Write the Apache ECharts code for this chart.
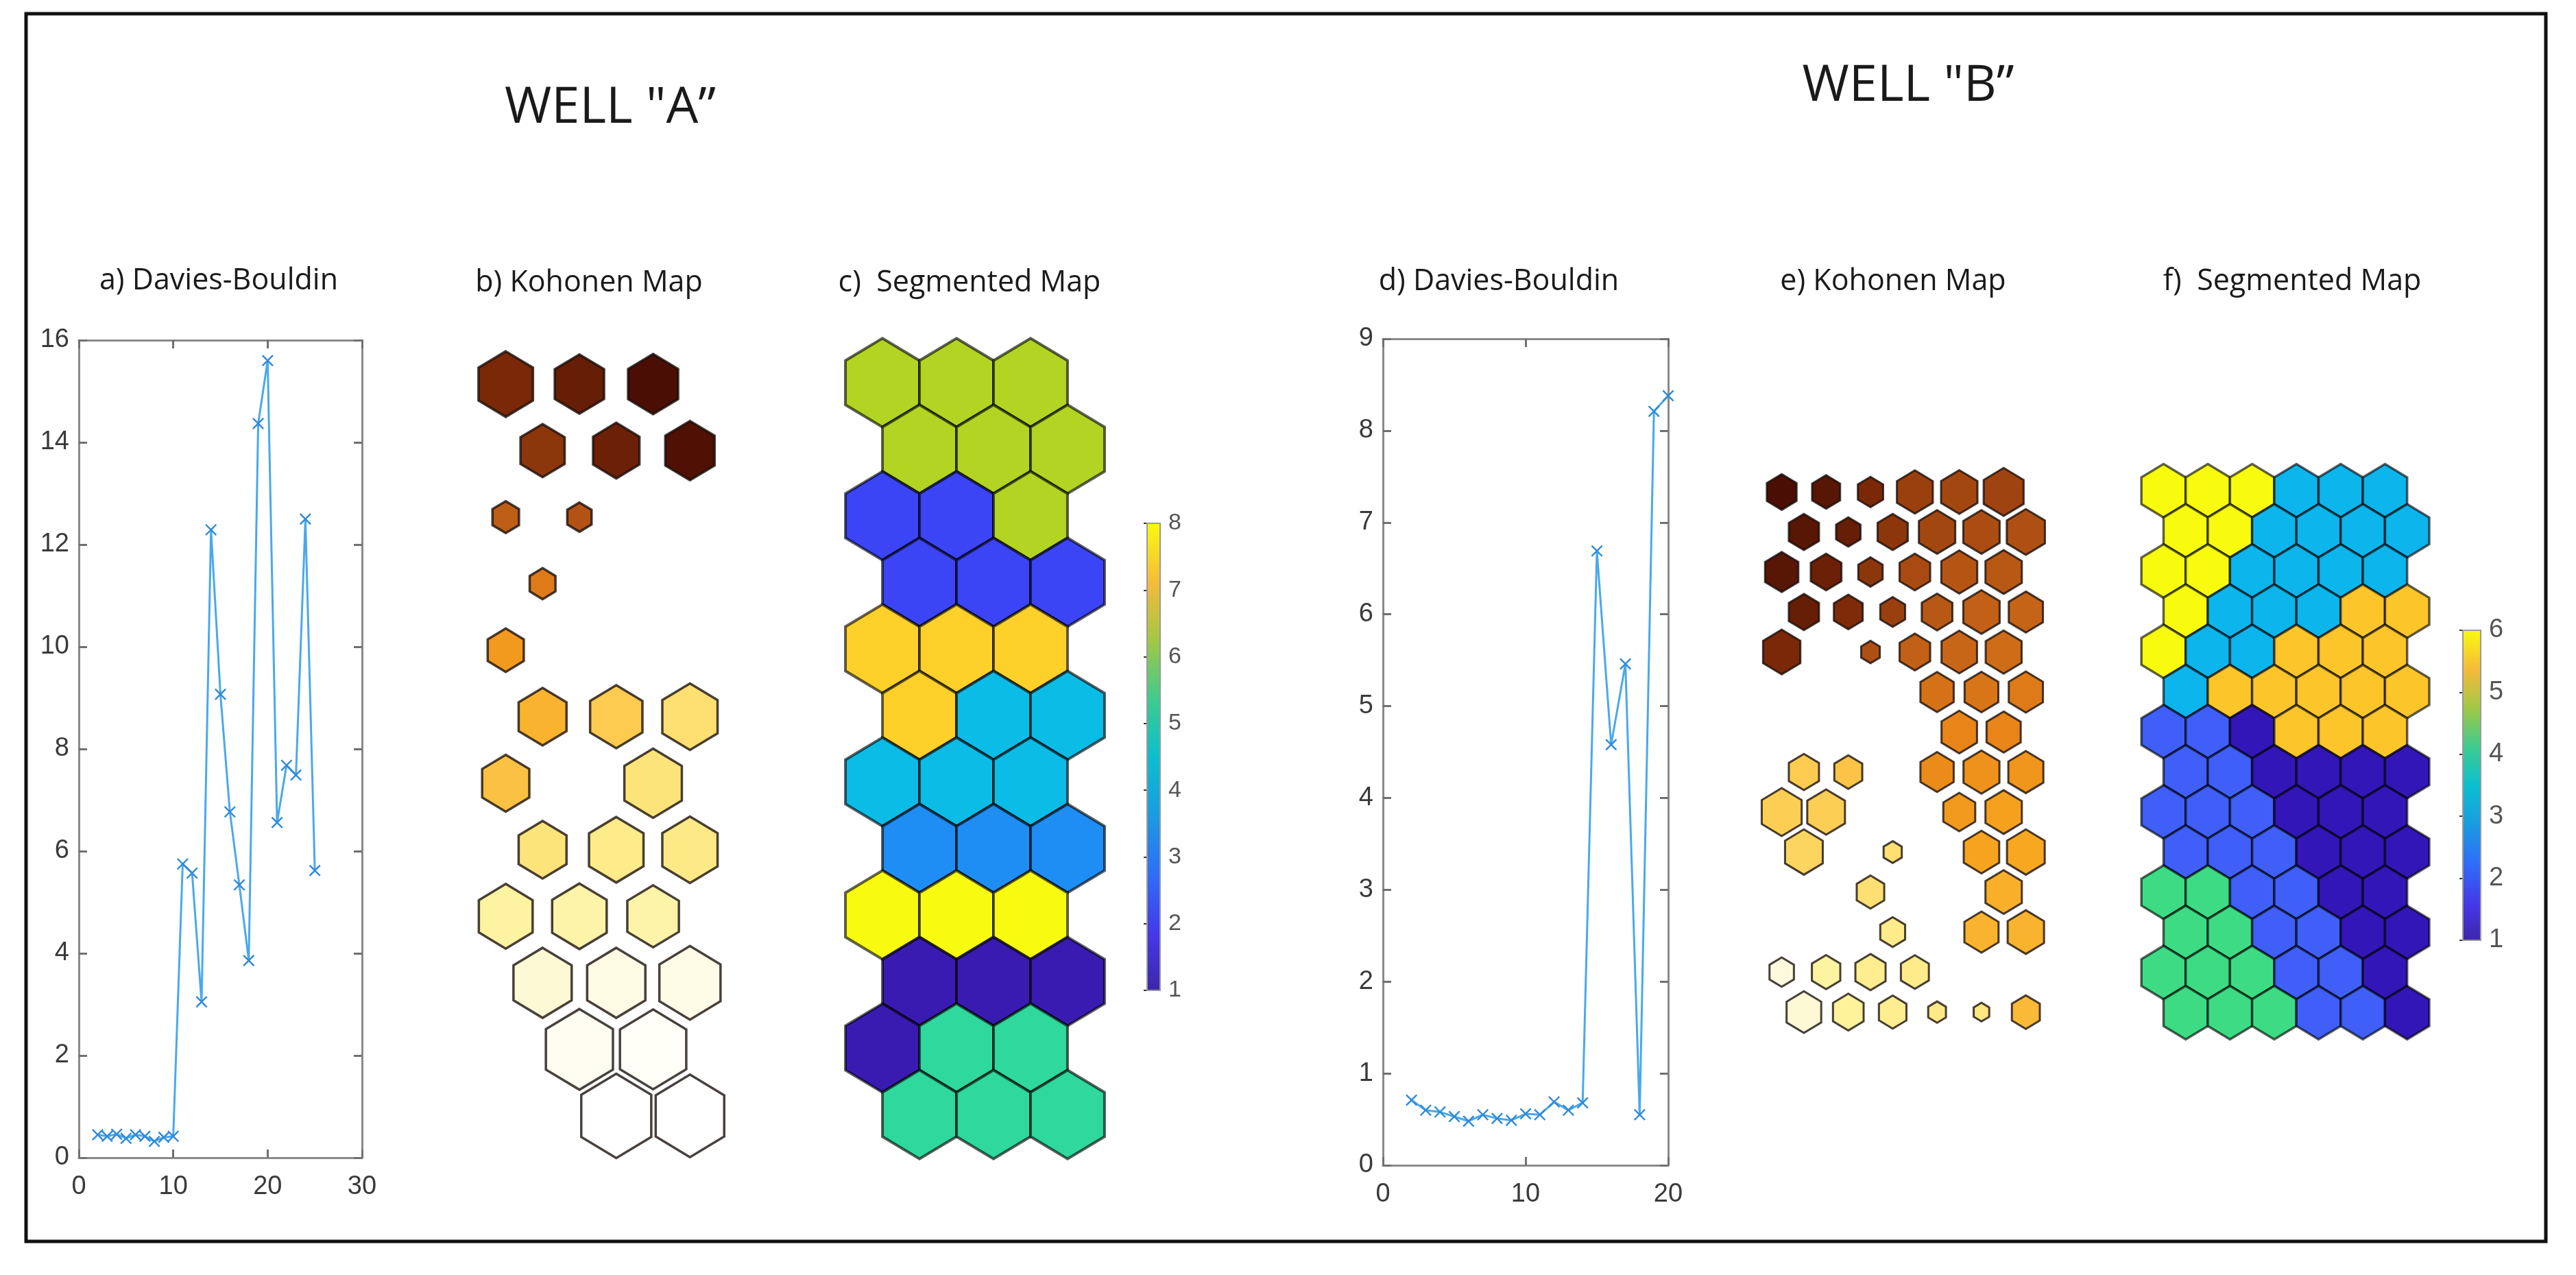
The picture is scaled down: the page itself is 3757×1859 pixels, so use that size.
<!DOCTYPE html>
<html>
<head>
<meta charset="utf-8">
<script src="https://cdn.jsdelivr.net/npm/echarts@6/dist/echarts.min.js"></script>
<style>
html,body{margin:0;padding:0;background:#fff;}
#main{width:3757px;height:1859px;}
</style>
</head>
<body>
<div id="main"></div>
<script>
// ---------- DATA ----------
// a) Davies-Bouldin, well A
const DB_A_X = [2,3,4,5,6,7,8,9,10,11,12,13,14,15,16,17,18,19,20,21,22,23,24,25];
const DB_A_Y = [0.45,0.42,0.46,0.38,0.45,0.42,0.32,0.40,0.42,5.75,5.57,3.05,12.29,9.07,6.77,5.34,3.86,14.37,15.6,6.56,7.68,7.49,12.5,5.62];
// d) Davies-Bouldin, well B
const DB_B_X = [2,3,4,5,6,7,8,9,10,11,12,13,14,15,16,17,18,19,20];
const DB_B_Y = [0.71,0.60,0.58,0.53,0.48,0.55,0.51,0.49,0.56,0.55,0.69,0.60,0.68,6.69,4.58,5.46,0.55,8.21,8.38];
const DB_A_XTICKS = [0,10,20,30], DB_A_YTICKS = [0,16,2];
const DB_B_XTICKS = [0,10,20],    DB_B_YTICKS = [0,9,1];

// b) Kohonen map, well A (12 rows x 3 cols): colour level (0 light .. 10 dark) and relative hexagon size
const KOH_A_LEVEL = [
 [9.0,9.4,10],[8.6,9.3,9.9],[7.3,7.7,null],[6.3,null,null],[5.4,null,null],[4.7,4.0,3.2],
 [4.3,null,3.0],[3.0,2.5,2.6],[1.9,1.8,1.8],[1.2,1.0,0.9],[null,0.5,0.3],[null,0,0]
];
const KOH_A_SIZE = [
 [0.74,0.67,0.68],[0.60,0.63,0.67],[0.36,0.33,0],[0.35,0,0],[0.49,0,0],[0.65,0.71,0.75],
 [0.64,0,0.78],[0.65,0.74,0.75],[0.73,0.74,0.70],[0.79,0.79,0.83],[0,0.91,0.90],[0,0.95,0.93]
];
// c) Segmented map, well A (cluster 1..8)
const SEG_A = [
 [6,6,6],[6,6,6],[2,2,6],[2,2,2],[7,7,7],[7,4,4],[4,4,4],[3,3,3],[8,8,8],[1,1,1],[1,5,5],[5,5,5]
];
const CBAR_A = [1,8];
// e) Kohonen map, well B (14 rows x 6 cols)
const KOH_B_LEVEL = [
 [10,9.7,9.0,8.3,8.1,8.2],
 [9.7,9.4,8.6,8.1,7.9,7.8],
 [9.7,9.3,8.6,8.0,7.6,7.5],
 [9.4,8.9,8.3,7.5,7.2,7.1],
 [9.0,null,7.8,7.2,7.0,6.8],
 [null,null,null,6.6,6.5,6.3],
 [null,null,null,null,6.0,6.0],
 [4.0,4.2,null,5.8,5.6,5.5],
 [3.9,3.9,null,null,5.4,5.2],
 [3.6,null,3.2,null,5.1,5.0],
 [null,null,3.2,null,null,4.8],
 [null,null,2.5,null,4.7,4.7],
 [1.1,1.9,2.3,2.5,null,null],
 [1.2,2.0,2.3,2.6,2.8,4.5]
];
const KOH_B_SIZE = [
 [0.67,0.63,0.57,0.81,0.82,0.90],
 [0.68,0.55,0.68,0.82,0.82,0.86],
 [0.75,0.69,0.55,0.69,0.81,0.82],
 [0.68,0.65,0.56,0.69,0.82,0.77],
 [0.84,0,0.42,0.69,0.80,0.81],
 [0,0,0,0.75,0.76,0.77],
 [0,0,0,0,0.80,0.77],
 [0.68,0.63,0,0.75,0.81,0.79],
 [0.90,0.85,0,0,0.72,0.82],
 [0.85,0,0.41,0,0.80,0.85],
 [0,0,0.62,0,0,0.82],
 [0,0,0.56,0,0.77,0.82],
 [0.55,0.64,0.68,0.63,0,0],
 [0.78,0.69,0.62,0.40,0.35,0.63]
];
// f) Segmented map, well B (cluster 1..6)
const SEG_B = [
 [6,6,6,3,3,3],[6,6,3,3,3,3],[6,6,3,3,3,3],[6,3,3,3,5,5],[6,3,3,5,5,5],[3,5,5,5,5,5],
 [2,2,1,5,5,5],[2,2,1,1,1,1],[2,2,2,1,1,1],[2,2,2,1,1,1],[4,4,2,2,1,1],[4,4,2,2,1,1],
 [4,4,4,2,2,1],[4,4,4,2,2,1]
];
const CBAR_B = [1,6];

// ---------- STYLE ----------
const KOH_COLORS = ['#ffffff','#fefbe4','#fef29a','#fde47a','#fccb50','#f8a820','#e88418','#c86618','#a84a12','#7a2808','#4a0e04'];
const SEG_A_COLORS = ['#3a1bb2','#3b45f5','#1e8ef5','#0bbde6','#2fd89c','#b3d422','#fdd02a','#f8fb10'];
const SEG_B_COLORS = ['#3316b8','#3f5ff8','#0cb5ec','#3ddc84','#fcc52a','#f8fb0e'];
const PARULA = [[0,'#3e26a8'],[0.12,'#4538e8'],[0.25,'#2f6ef8'],[0.38,'#1a9de0'],[0.5,'#0bbfcf'],[0.62,'#3ccb90'],[0.75,'#a3c845'],[0.87,'#f5ba3a'],[1,'#f9fb0e']];
const HEX = [[0,-2/3],[0.5,-1/3],[0.5,1/3],[0,2/3],[-0.5,1/3],[-0.5,-1/3]];
const XMARK = 'path://M0,1L1,0L5,4L9,0L10,1L6,5L10,9L9,10L5,6L1,10L0,9L4,5Z';

function gridCells(level, size){
  const out=[];
  level.forEach((row,r)=>row.forEach((v,c)=>{ if(v!==null && size[r][c]>0) out.push([c,r,v,size[r][c]]); }));
  return out;
}
function segCells(seg){
  const out=[];
  seg.forEach((row,r)=>row.forEach((v,c)=>out.push([c,r,v,1])));
  return out;
}
function hexPts(api,col,row,s){
  const xc = col + (row%2 ? 0.5 : 0);
  return HEX.map(p=>api.coord([xc+p[0]*s, row+p[1]*s]));
}
function kohRender(lw){
  return function(params,api){
    return {type:'polygon', shape:{points:hexPts(api,api.value(0),api.value(1),api.value(3))},
      style:{fill:api.visual('color'), stroke:'rgba(20,12,8,0.78)', lineWidth:lw}};
  };
}
function segRender(colors,lw){
  return function(params,api){
    return {type:'polygon', shape:{points:hexPts(api,api.value(0),api.value(1),1)},
      style:{fill:colors[api.value(2)-1], stroke:'rgba(0,0,0,0.62)', lineWidth:lw}};
  };
}
function cbarRender(range){
  return function(params,api){
    const p0 = api.coord([0,range[1]]), p1 = api.coord([1,range[0]]);
    return {type:'rect', shape:{x:p0[0],y:p0[1],width:p1[0]-p0[0],height:p1[1]-p0[1]},
      style:{fill:new echarts.graphic.LinearGradient(0,1,0,0,PARULA.map(s=>({offset:s[0],color:s[1]}))),
             stroke:'#9a9a9a', lineWidth:2}};
  };
}

const AX_LINE = {show:true,onZero:false,lineStyle:{color:'#8a8a8a',width:3}};
const AX_TICK = {show:true,inside:true,length:12,lineStyle:{color:'#707070',width:3}};
function boxX(grid,pos,ticks,labels){
  return {gridIndex:grid,type:'value',position:pos,min:ticks[0],max:ticks[ticks.length-1],interval:ticks[1]-ticks[0],
    axisLine:AX_LINE,axisTick:AX_TICK,splitLine:{show:false},
    axisLabel:{show:labels,fontSize:38,color:'#3a3a3a',fontFamily:'Liberation Sans',margin:24}};
}
function boxY(grid,pos,t,labels){
  return {gridIndex:grid,type:'value',position:pos,min:t[0],max:t[1],interval:t[2],
    axisLine:AX_LINE,axisTick:AX_TICK,splitLine:{show:false},
    axisLabel:{show:labels,fontSize:38,color:'#3a3a3a',fontFamily:'Liberation Sans',margin:14}};
}
function hidden(grid,min,max,inv){
  return {gridIndex:grid,type:'value',show:false,min:min,max:max,inverse:!!inv,splitLine:{show:false}};
}
function cbarY(grid,range,fs){
  return {gridIndex:grid,type:'value',position:'right',min:range[0],max:range[1],interval:1,
    axisLine:{show:false},splitLine:{show:false},
    axisTick:{show:true,inside:true,length:5,lineStyle:{color:'#333',width:2}},
    axisLabel:{fontSize:fs,color:'#555',fontFamily:'Liberation Sans',margin:12}};
}
function txt(x,y,s,size,col){
  return {type:'text',x:x,y:y,style:{text:s,font:size+'px "Open Sans"',fill:col||'#1a1a1a',
    textAlign:'center',textVerticalAlign:'middle',verticalAlign:'middle'}};
}

const chart = echarts.init(document.getElementById('main'),null,{renderer:'canvas'});
chart.setOption({
  animation:false,
  backgroundColor:'#ffffff',
  grid:[
    {left:115,top:496,width:413,height:1192},
    {left:2017,top:494,width:416,height:1205},
    {left:657,top:463,width:403,height:1261},
    {left:1206,top:461,width:405,height:1261},
    {left:2550,top:659,width:437,height:875},
    {left:3107,top:657,width:436,height:878},
    {left:1673,top:763,width:19,height:681},
    {left:3592,top:919,width:26,height:452}
  ],
  xAxis:[
    boxX(0,'bottom',DB_A_XTICKS,true), boxX(0,'top',DB_A_XTICKS,false),
    boxX(1,'bottom',DB_B_XTICKS,true), boxX(1,'top',DB_B_XTICKS,false),
    hidden(2,-0.75,3), hidden(3,-0.75,3), hidden(4,-0.75,6), hidden(5,-0.75,6),
    hidden(6,0,1), hidden(7,0,1)
  ],
  yAxis:[
    boxY(0,'left',DB_A_YTICKS,true), boxY(0,'right',DB_A_YTICKS,false),
    boxY(1,'left',DB_B_YTICKS,true), boxY(1,'right',DB_B_YTICKS,false),
    hidden(2,-1,12,true), hidden(3,-1,12,true), hidden(4,-1,14,true), hidden(5,-1,14,true),
    cbarY(6,CBAR_A,34), cbarY(7,CBAR_B,38)
  ],
  visualMap:[{type:'continuous',show:false,seriesIndex:[2,4],dimension:2,min:0,max:10,inRange:{color:KOH_COLORS}}],
  series:[
    {type:'line',xAxisIndex:0,yAxisIndex:0,data:DB_A_X.map((x,i)=>[x,DB_A_Y[i]]),
     symbol:XMARK,symbolSize:17,showAllSymbol:true,lineStyle:{color:'#4aa8ec',width:3},itemStyle:{color:'#2f8ad8'},silent:true},
    {type:'line',xAxisIndex:2,yAxisIndex:2,data:DB_B_X.map((x,i)=>[x,DB_B_Y[i]]),
     symbol:XMARK,symbolSize:17,showAllSymbol:true,lineStyle:{color:'#4aa8ec',width:3},itemStyle:{color:'#2f8ad8'},silent:true},
    {type:'custom',xAxisIndex:4,yAxisIndex:4,data:gridCells(KOH_A_LEVEL,KOH_A_SIZE),renderItem:kohRender(3.5),silent:true},
    {type:'custom',xAxisIndex:5,yAxisIndex:5,data:segCells(SEG_A),renderItem:segRender(SEG_A_COLORS,4),silent:true},
    {type:'custom',xAxisIndex:6,yAxisIndex:6,data:gridCells(KOH_B_LEVEL,KOH_B_SIZE),renderItem:kohRender(3),silent:true},
    {type:'custom',xAxisIndex:7,yAxisIndex:7,data:segCells(SEG_B),renderItem:segRender(SEG_B_COLORS,3.5),silent:true},
    {type:'custom',xAxisIndex:8,yAxisIndex:8,data:[[0]],renderItem:cbarRender(CBAR_A),silent:true,z:1},
    {type:'custom',xAxisIndex:9,yAxisIndex:9,data:[[0]],renderItem:cbarRender(CBAR_B),silent:true,z:1}
  ],
  graphic:[
    {type:'rect',shape:{x:38,y:20,width:3675,height:1790},style:{fill:'none',stroke:'#111',lineWidth:5},silent:true},
    txt(890,158,'WELL "A\u201D',74),
    txt(2783,126,'WELL "B\u201D',74),
    txt(319,410,'a) Davies-Bouldin',43),
    txt(859,413,'b) Kohonen Map',43),
    txt(1414,413,'c)  Segmented Map',43),
    txt(2186,411,'d) Davies-Bouldin',43),
    txt(2761,411,'e) Kohonen Map',43),
    txt(3343,411,'f)  Segmented Map',43)
  ]
});
</script>
</body>
</html>
